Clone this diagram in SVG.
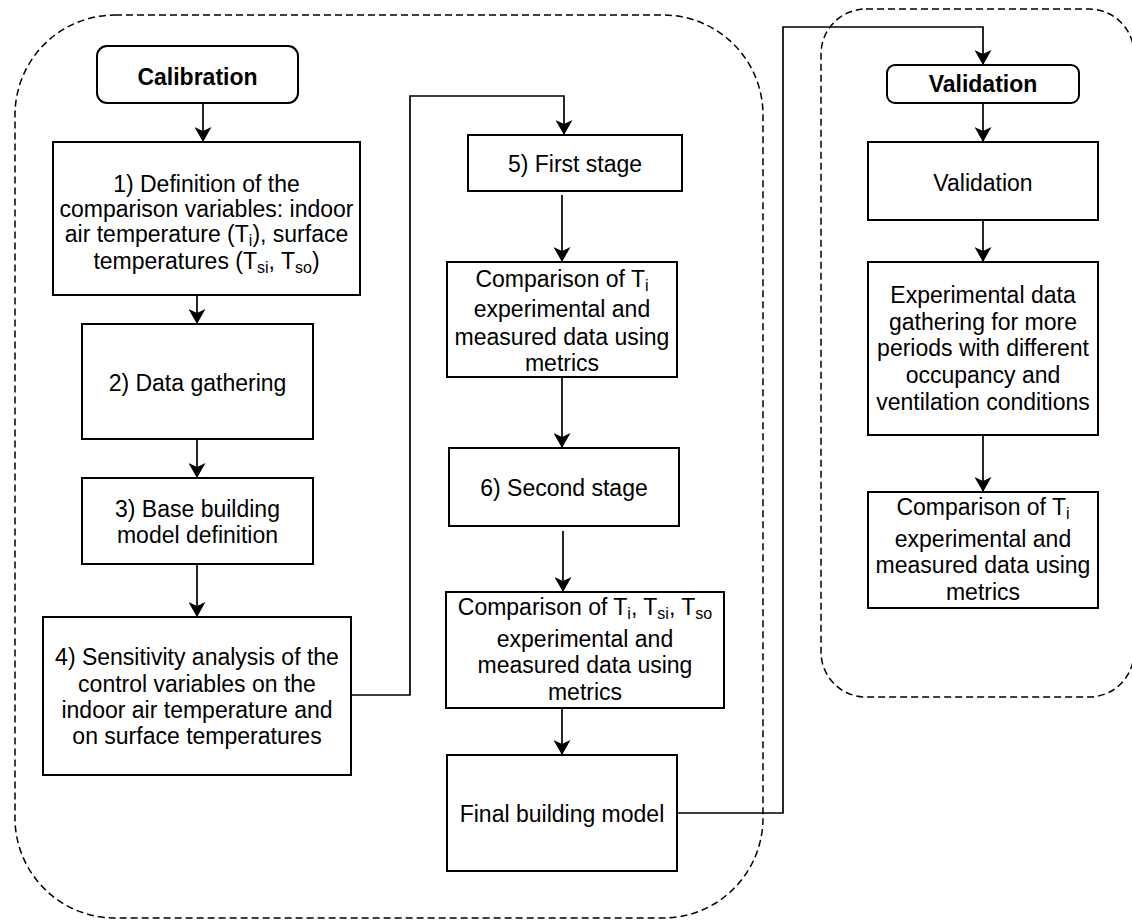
<svg xmlns="http://www.w3.org/2000/svg" width="1132" height="920" viewBox="0 0 1132 920">
<style>
.box{fill:#fff;stroke:#000;stroke-width:2}
.cont{fill:none;stroke:#000;stroke-width:1.5;stroke-dasharray:7 4}
.t{font-family:"Liberation Sans",Arial,sans-serif;font-size:23px;fill:#000;text-anchor:middle}
.b{font-weight:bold}
.s{font-size:16px}
.c{fill:none;stroke:#000;stroke-width:1.7}
</style>
<defs>
<marker id="ah" markerUnits="userSpaceOnUse" viewBox="0 0 15 17" refX="15" refY="8.5" markerWidth="15" markerHeight="17" orient="auto">
<path d="M0,0 L15,8.5 L0,17 L4,8.5 z" fill="#000"/>
</marker>
</defs>
<g id="containers">
<rect id="calibration-group" class="cont" x="15" y="15" width="748" height="903" rx="100" ry="100"/>
<rect id="validation-group" class="cont" x="821" y="9" width="313" height="688" rx="45" ry="45"/>
</g>
<g id="connectors">
<path class="c" d="M203,103 V142" marker-end="url(#ah)"/>
<path class="c" d="M197,295 V324" marker-end="url(#ah)"/>
<path class="c" d="M197,439 V478" marker-end="url(#ah)"/>
<path class="c" d="M197,564 V617" marker-end="url(#ah)"/>
<path class="c" d="M351,695 H410 V96 H564 V135" marker-end="url(#ah)"/>
<path class="c" d="M562,195 V262" marker-end="url(#ah)"/>
<path class="c" d="M562,377 V448" marker-end="url(#ah)"/>
<path class="c" d="M563,531 V592" marker-end="url(#ah)"/>
<path class="c" d="M562,708 V755" marker-end="url(#ah)"/>
<path class="c" d="M677,813 H783 V27 H983 V65" marker-end="url(#ah)"/>
<path class="c" d="M983,103 V142" marker-end="url(#ah)"/>
<path class="c" d="M983,220 V262" marker-end="url(#ah)"/>
<path class="c" d="M983,435 V492" marker-end="url(#ah)"/>
</g>
<g id="calibration">
<rect class="box" x="97" y="46" width="201" height="57" rx="10" ry="10"/>
<text class="t b" x="197.5" y="85">Calibration</text>
</g>
<g id="step1">
<rect class="box" x="53" y="142" width="307" height="153"/>
<text class="t" x="206.5" y="192">1) Definition of the</text>
<text class="t" x="206.5" y="217">comparison variables: indoor</text>
<text class="t" x="206.5" y="242">air temperature (T<tspan class="s" dy="4">i</tspan><tspan dy="-4">), surface</tspan></text>
<text class="t" x="206.5" y="269">temperatures (T<tspan class="s" dy="4">si</tspan><tspan dy="-4">, T</tspan><tspan class="s" dy="4">so</tspan><tspan dy="-4">)</tspan></text>
</g>
<g id="step2">
<rect class="box" x="82" y="324" width="231" height="115"/>
<text class="t" x="197.5" y="391">2) Data gathering</text>
</g>
<g id="step3">
<rect class="box" x="82" y="478" width="231" height="86"/>
<text class="t" x="197.5" y="517">3) Base building</text>
<text class="t" x="197.5" y="543">model definition</text>
</g>
<g id="step4">
<rect class="box" x="43" y="617" width="308" height="158"/>
<text class="t" x="197" y="665">4) Sensitivity analysis of the</text>
<text class="t" x="197" y="692">control variables on the</text>
<text class="t" x="197" y="718">indoor air temperature and</text>
<text class="t" x="197" y="744">on surface temperatures</text>
</g>
<g id="step5">
<rect class="box" x="468" y="135" width="214" height="56"/>
<text class="t" x="575" y="172">5) First stage</text>
</g>
<g id="comparison1">
<rect class="box" x="447" y="262" width="230" height="115"/>
<text class="t" x="562" y="287">Comparison of T<tspan class="s" dy="4">i</tspan></text>
<text class="t" x="562" y="317">experimental and</text>
<text class="t" x="562" y="345">measured data using</text>
<text class="t" x="562" y="371">metrics</text>
</g>
<g id="step6">
<rect class="box" x="449" y="448" width="230" height="78"/>
<text class="t" x="564" y="496">6) Second stage</text>
</g>
<g id="comparison2">
<rect class="box" x="446" y="592" width="278" height="116"/>
<text class="t" x="585" y="615">Comparison of T<tspan class="s" dy="4">i</tspan><tspan dy="-4">, T</tspan><tspan class="s" dy="4">si</tspan><tspan dy="-4">, T</tspan><tspan class="s" dy="4">so</tspan></text>
<text class="t" x="585" y="647">experimental and</text>
<text class="t" x="585" y="673">measured data using</text>
<text class="t" x="585" y="700">metrics</text>
</g>
<g id="final">
<rect class="box" x="447" y="755" width="230" height="116"/>
<text class="t" x="562" y="822">Final building model</text>
</g>
<g id="validation-title">
<rect class="box" x="887" y="65" width="192" height="38" rx="8" ry="8"/>
<text class="t b" x="983" y="92">Validation</text>
</g>
<g id="validation">
<rect class="box" x="868" y="142" width="230" height="78"/>
<text class="t" x="983" y="191">Validation</text>
</g>
<g id="experimental">
<rect class="box" x="868" y="262" width="230" height="173"/>
<text class="t" x="983" y="303">Experimental data</text>
<text class="t" x="983" y="330">gathering for more</text>
<text class="t" x="983" y="356">periods with different</text>
<text class="t" x="983" y="383">occupancy and</text>
<text class="t" x="983" y="410">ventilation conditions</text>
</g>
<g id="comparison3">
<rect class="box" x="868" y="492" width="230" height="116"/>
<text class="t" x="983" y="515">Comparison of T<tspan class="s" dy="4">i</tspan></text>
<text class="t" x="983" y="547">experimental and</text>
<text class="t" x="983" y="573">measured data using</text>
<text class="t" x="983" y="600">metrics</text>
</g>
</svg>
